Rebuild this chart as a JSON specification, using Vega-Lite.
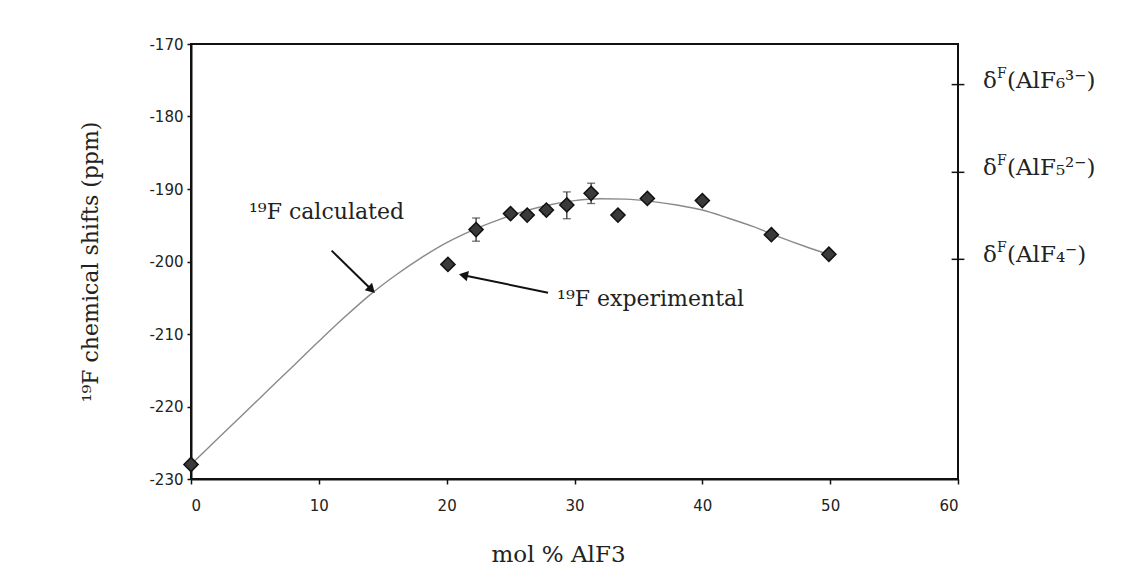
{
  "$schema": "https://vega.github.io/schema/vega-lite/v6.json",
  "width": 767,
  "height": 435,
  "autosize": {"type": "none"},
  "padding": {"left": 191, "top": 44, "right": 173, "bottom": 93},
  "background": "#ffffff",
  "config": {
    "view": {"stroke": "#111111", "strokeWidth": 2},
    "axis": {
      "grid": false,
      "domainColor": "#111111",
      "domainWidth": 2,
      "tickColor": "#111111",
      "tickWidth": 1.5,
      "labelFont": "DejaVu Sans",
      "labelFontSize": 15,
      "labelColor": "#222222",
      "titleFont": "DejaVu Serif",
      "titleFontWeight": "normal",
      "titleColor": "#222222"
    },
    "text": {"font": "DejaVu Serif", "color": "#222222"}
  },
  "datasets": {
    "calculated": [
      {"mol": 0, "shift": -228.0}, {"mol": 2, "shift": -224.6}, {"mol": 4, "shift": -221.2},
      {"mol": 6, "shift": -217.8}, {"mol": 8, "shift": -214.4}, {"mol": 10, "shift": -211.0},
      {"mol": 12, "shift": -207.7}, {"mol": 14, "shift": -204.6}, {"mol": 16, "shift": -201.9},
      {"mol": 18, "shift": -199.5}, {"mol": 20, "shift": -197.4}, {"mol": 22, "shift": -195.7},
      {"mol": 24, "shift": -194.3}, {"mol": 26, "shift": -193.1}, {"mol": 28, "shift": -192.2},
      {"mol": 30, "shift": -191.6}, {"mol": 32, "shift": -191.35}, {"mol": 34, "shift": -191.4},
      {"mol": 36, "shift": -191.7}, {"mol": 38, "shift": -192.2}, {"mol": 40, "shift": -192.9},
      {"mol": 42, "shift": -194.0}, {"mol": 44, "shift": -195.2}, {"mol": 46, "shift": -196.6},
      {"mol": 48, "shift": -197.9}, {"mol": 50, "shift": -199.1}
    ],
    "experimental": [
      {"mol": 0, "shift": -228.0},
      {"mol": 20.1, "shift": -200.4},
      {"mol": 22.3, "shift": -195.6, "lo": -197.2, "hi": -194.0},
      {"mol": 25.0, "shift": -193.4},
      {"mol": 26.3, "shift": -193.6},
      {"mol": 27.8, "shift": -192.9, "lo": -193.5, "hi": -192.3},
      {"mol": 29.4, "shift": -192.2, "lo": -194.1, "hi": -190.4},
      {"mol": 31.3, "shift": -190.6, "lo": -192.0, "hi": -189.2},
      {"mol": 33.4, "shift": -193.6},
      {"mol": 35.7, "shift": -191.3},
      {"mol": 40.0, "shift": -191.6},
      {"mol": 45.4, "shift": -196.3},
      {"mol": 49.9, "shift": -199.0}
    ],
    "notes": [
      {"mol": 4.54, "shift": -194.1, "label": "¹⁹F calculated"},
      {"mol": 28.64, "shift": -206.1, "label": "¹⁹F experimental"}
    ],
    "arrows": [
      {"name": "calculated", "mol": 11.0, "shift": -198.5, "mol2": 14.13, "shift2": -203.9},
      {"name": "experimental", "mol": 27.93, "shift": -204.3, "mol2": 21.31, "shift2": -201.9}
    ],
    "species": [
      {"shift": -175.6, "ion": "(AlF₆³⁻)"},
      {"shift": -187.7, "ion": "(AlF₅²⁻)"},
      {"shift": -199.7, "ion": "(AlF₄⁻)"}
    ]
  },
  "layer": [
    {
      "data": {"name": "calculated"},
      "mark": {"type": "line", "interpolate": "monotone", "stroke": "#8a8a8a", "strokeWidth": 1.4},
      "encoding": {
        "x": {
          "field": "mol",
          "type": "quantitative",
          "scale": {"domain": [0, 60], "nice": false, "zero": false},
          "axis": {
            "values": [0, 10, 20, 30, 40, 50, 60],
            "tickSize": 5,
            "labelPadding": 14,
            "title": "mol % AlF3",
            "titleFontSize": 23,
            "titlePadding": 30,
            "titleX": 367
          }
        },
        "y": {
          "field": "shift",
          "type": "quantitative",
          "scale": {"domain": [-230, -170], "nice": false, "zero": false},
          "axis": {
            "values": [-230, -220, -210, -200, -190, -180, -170],
            "labelExpr": "datum.value < 0 ? '-' + abs(datum.value) : '' + datum.value",
            "tickSize": 4,
            "labelPadding": 4,
            "title": "¹⁹F chemical shifts (ppm)",
            "titleFontSize": 22,
            "titlePadding": 46
          }
        }
      }
    },
    {
      "data": {"name": "experimental"},
      "transform": [{"filter": "isValid(datum.lo)"}],
      "mark": {"type": "rule", "stroke": "#333333", "strokeWidth": 1.3},
      "encoding": {
        "x": {"field": "mol", "type": "quantitative", "title": "mol % AlF3"},
        "y": {"field": "lo", "type": "quantitative", "title": "¹⁹F chemical shifts (ppm)"},
        "y2": {"field": "hi"}
      }
    },
    {
      "data": {"name": "experimental"},
      "transform": [{"filter": "isValid(datum.lo)"}, {"fold": ["lo", "hi"], "as": ["end", "value"]}],
      "mark": {"type": "tick", "orient": "horizontal", "size": 8, "thickness": 1.3, "color": "#333333"},
      "encoding": {
        "x": {"field": "mol", "type": "quantitative", "title": "mol % AlF3"},
        "y": {"field": "value", "type": "quantitative", "title": "¹⁹F chemical shifts (ppm)"}
      }
    },
    {
      "data": {"name": "experimental"},
      "mark": {"type": "point", "shape": "diamond", "size": 200, "filled": true, "fill": "#3a3a3a", "stroke": "#111111", "strokeWidth": 1.5, "opacity": 1},
      "encoding": {
        "x": {"field": "mol", "type": "quantitative", "title": "mol % AlF3"},
        "y": {"field": "shift", "type": "quantitative", "title": "¹⁹F chemical shifts (ppm)"}
      }
    },
    {
      "data": {"name": "arrows"},
      "mark": {"type": "rule", "stroke": "#111111", "strokeWidth": 2},
      "encoding": {
        "x": {"field": "mol", "type": "quantitative", "title": "mol % AlF3"},
        "y": {"field": "shift", "type": "quantitative", "title": "¹⁹F chemical shifts (ppm)"},
        "x2": {"field": "mol2"},
        "y2": {"field": "shift2"}
      }
    },
    {
      "data": {"name": "arrows"},
      "transform": [{"filter": "datum.name === 'calculated'"}],
      "mark": {"type": "point", "shape": "triangle-up", "size": 110, "filled": true, "color": "#111111", "opacity": 1, "angle": 134.5},
      "encoding": {
        "x": {"field": "mol2", "type": "quantitative", "title": "mol % AlF3"},
        "y": {"field": "shift2", "type": "quantitative", "title": "¹⁹F chemical shifts (ppm)"}
      }
    },
    {
      "data": {"name": "arrows"},
      "transform": [{"filter": "datum.name === 'experimental'"}],
      "mark": {"type": "point", "shape": "triangle-up", "size": 110, "filled": true, "color": "#111111", "opacity": 1, "angle": 282},
      "encoding": {
        "x": {"field": "mol2", "type": "quantitative", "title": "mol % AlF3"},
        "y": {"field": "shift2", "type": "quantitative", "title": "¹⁹F chemical shifts (ppm)"}
      }
    },
    {
      "data": {"name": "notes"},
      "mark": {"type": "text", "align": "left", "baseline": "alphabetic", "fontSize": 22},
      "encoding": {
        "x": {"field": "mol", "type": "quantitative", "title": "mol % AlF3"},
        "y": {"field": "shift", "type": "quantitative", "title": "¹⁹F chemical shifts (ppm)"},
        "text": {"field": "label"}
      }
    },
    {
      "data": {"name": "species"},
      "mark": {"type": "rule", "stroke": "#111111", "strokeWidth": 1.5},
      "encoding": {
        "x": {"datum": 59.5, "type": "quantitative", "title": "mol % AlF3"},
        "x2": {"datum": 60.5},
        "y": {"field": "shift", "type": "quantitative", "title": "¹⁹F chemical shifts (ppm)"}
      }
    },
    {
      "data": {"name": "species"},
      "mark": {"type": "text", "text": "δ", "align": "left", "baseline": "alphabetic", "fontSize": 23, "dx": 25, "dy": 3},
      "encoding": {
        "x": {"datum": 60, "type": "quantitative", "title": "mol % AlF3"},
        "y": {"field": "shift", "type": "quantitative", "title": "¹⁹F chemical shifts (ppm)"}
      }
    },
    {
      "data": {"name": "species"},
      "mark": {"type": "text", "text": "F", "align": "left", "baseline": "alphabetic", "fontSize": 14, "dx": 39, "dy": -7},
      "encoding": {
        "x": {"datum": 60, "type": "quantitative", "title": "mol % AlF3"},
        "y": {"field": "shift", "type": "quantitative", "title": "¹⁹F chemical shifts (ppm)"}
      }
    },
    {
      "data": {"name": "species"},
      "mark": {"type": "text", "align": "left", "baseline": "alphabetic", "fontSize": 23, "dx": 49, "dy": 3},
      "encoding": {
        "x": {"datum": 60, "type": "quantitative", "title": "mol % AlF3"},
        "y": {"field": "shift", "type": "quantitative", "title": "¹⁹F chemical shifts (ppm)"},
        "text": {"field": "ion"}
      }
    }
  ]
}
